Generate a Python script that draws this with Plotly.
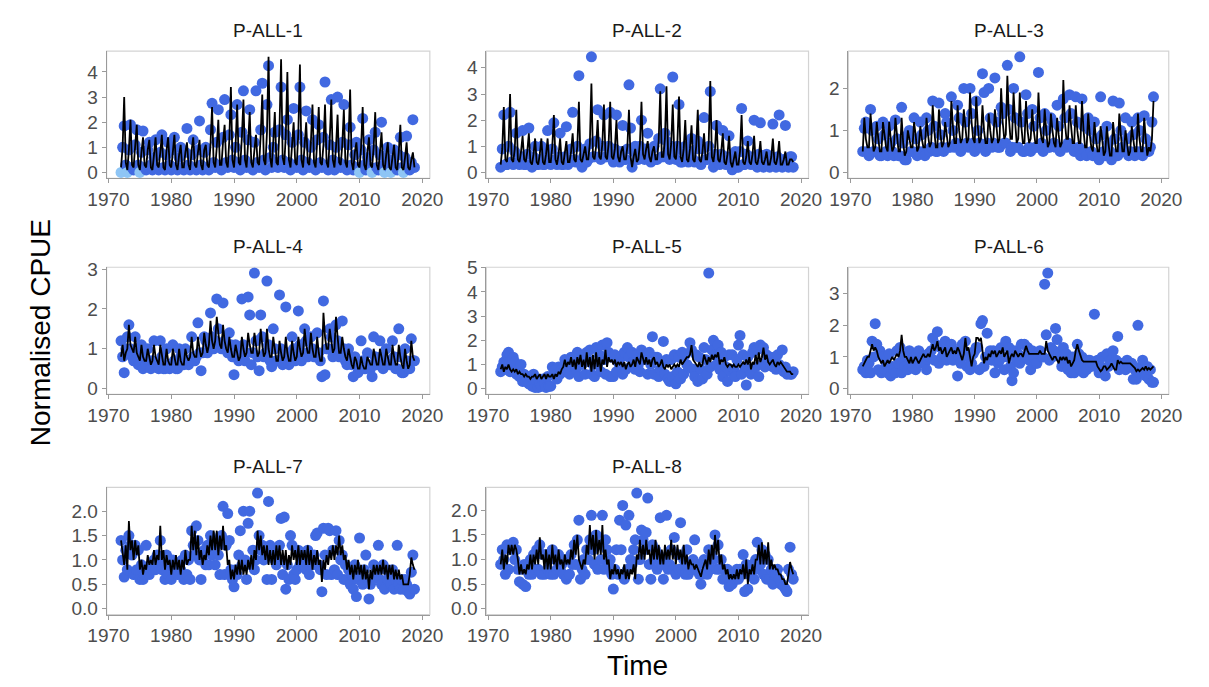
import plotly.graph_objects as go

START_YEAR = 1972  # first quarter of the series; points are quarterly

panel_names = ["P-ALL-1", "P-ALL-2", "P-ALL-3", "P-ALL-4",
               "P-ALL-5", "P-ALL-6", "P-ALL-7", "P-ALL-8"]
x_ticks = [1970, 1980, 1990, 2000, 2010, 2020]

# ---------------- P-ALL-1 ----------------
obs_1 = [
    0.0, 1.0, 1.85, 0.3,  0.0, 0.9, 1.9, 0.2,  0.1, 1.1, 1.7, 0.3,  0.0, 0.8, 1.65, 0.2,
    0.1, 0.9, 1.2, 0.3,   0.1, 0.6, 1.3, 0.2,  0.1, 0.8, 1.5, 0.2,  0.1, 0.7, 1.2, 0.3,
    0.1, 0.9, 1.4, 0.2,   0.1, 0.6, 1.0, 0.2,  0.1, 0.8, 1.75, 0.3, 0.1, 0.7, 1.3, 0.2,
    0.1, 0.9, 2.05, 0.3,  0.1, 0.8, 1.0, 0.2,  0.1, 1.7, 2.75, 0.4, 0.2, 1.2, 2.5, 0.3,
    0.1, 1.4, 2.9, 0.4,   0.2, 1.5, 2.3, 0.5,  0.2, 1.0, 2.7, 0.4,  0.1, 1.6, 3.25, 0.5,
    0.2, 1.3, 2.5, 0.3,   0.1, 1.2, 3.25, 0.4, 0.2, 1.7, 3.55, 0.5, 0.1, 2.7, 4.25, 0.6,
    0.2, 1.0, 1.6, 0.4,   0.2, 1.7, 3.4, 0.5,  0.2, 1.5, 2.1, 0.4,  0.1, 1.2, 2.55, 0.3,
    0.2, 1.5, 3.4, 0.5,   0.1, 1.2, 2.45, 0.4, 0.2, 1.0, 2.1, 0.3,  0.1, 1.3, 1.9, 0.4,
    0.2, 1.4, 3.6, 0.3,   0.1, 1.1, 2.9, 0.5,  0.1, 1.0, 3.0, 0.4,  0.2, 1.2, 2.7, 0.3,
    0.1, 1.1, 1.8, 0.3,   0.1, 0.7, 1.2, 0.2,  0.0, 0.9, 2.15, 0.3, 0.1, 0.6, 1.3, 0.2,
    0.0, 0.9, 1.6, 0.2,   0.1, 0.7, 2.0, 0.3,  0.0, 0.6, 1.0, 0.2,  0.0, 0.5, 0.9, 0.2,
    0.1, 0.7, 1.4, 0.2,   0.0, 0.6, 1.45, 0.3, 0.1, 0.4, 2.1, 0.2,
]
fit_1 = [
    0.2, 1.0, 3.0, 0.4,  0.1, 0.9, 2.1, 0.3,  0.2, 1.2, 1.9, 0.3,  0.1, 0.8, 1.4, 0.3,
    0.2, 0.9, 1.3, 0.2,  0.1, 0.7, 1.4, 0.3,  0.2, 0.8, 1.5, 0.2,  0.1, 0.9, 1.4, 0.3,
    0.2, 0.8, 1.5, 0.3,  0.1, 0.7, 1.1, 0.2,  0.2, 0.8, 1.2, 0.3,  0.1, 0.9, 1.4, 0.3,
    0.2, 0.8, 1.3, 0.3,  0.1, 0.9, 1.1, 0.3,  0.2, 1.1, 2.6, 0.4,  0.2, 1.0, 2.1, 0.3,
    0.3, 1.2, 1.9, 0.4,  0.2, 1.3, 3.4, 0.5,  0.2, 1.1, 2.7, 0.4,  0.3, 1.4, 2.9, 0.5,
    0.2, 1.2, 2.4, 0.4,  0.2, 0.9, 1.5, 0.4,  0.3, 1.5, 3.1, 0.5,  0.3, 1.6, 4.6, 0.6,
    0.2, 1.2, 2.4, 0.4,  0.3, 1.8, 4.5, 0.6,  0.3, 1.5, 4.0, 0.5,  0.2, 1.1, 2.0, 0.4,
    0.3, 1.6, 4.3, 0.5,  0.2, 1.1, 2.0, 0.4,  0.3, 1.2, 2.7, 0.4,  0.2, 1.2, 2.6, 0.4,
    0.3, 1.1, 2.7, 0.4,  0.2, 1.3, 2.9, 0.5,  0.2, 1.0, 2.3, 0.4,  0.3, 1.1, 2.5, 0.4,
    0.2, 1.3, 3.3, 0.4,  0.1, 0.8, 1.2, 0.3,  0.2, 1.0, 2.6, 0.3,  0.1, 0.8, 1.4, 0.3,
    0.2, 1.0, 2.4, 0.3,  0.1, 0.8, 1.6, 0.3,  0.1, 0.7, 1.2, 0.2,  0.1, 0.6, 1.1, 0.2,
    0.1, 0.8, 1.9, 0.2,  0.1, 0.6, 1.2, 0.2,  0.1, 0.5, 0.8, 0.2,
]

# ---------------- P-ALL-2 ----------------
obs_2 = [
    0.2, 0.9, 2.2, 0.3,  0.3, 1.0, 2.3, 0.4,  0.3, 0.8, 1.5, 0.4,  0.3, 0.6, 1.6, 0.3,
    0.3, 0.7, 1.7, 0.3,  0.2, 0.6, 1.0, 0.3,  0.3, 0.5, 1.0, 0.3,  0.3, 0.7, 1.6, 0.4,
    0.3, 0.9, 1.9, 0.5,  0.3, 0.6, 1.5, 0.3,  0.3, 0.6, 1.75, 0.3, 0.4, 0.9, 2.3, 0.5,
    0.4, 1.0, 3.7, 0.4,  0.2, 0.6, 0.9, 0.4,  0.5, 1.1, 4.42, 0.6, 0.6, 1.2, 2.4, 0.6,
    0.5, 1.0, 2.2, 0.6,  0.6, 1.0, 2.3, 0.7,  0.4, 0.9, 2.2, 0.5,  0.4, 0.8, 1.8, 0.5,
    0.5, 0.9, 3.35, 1.7, 0.2, 0.8, 1.0, 0.5,  0.5, 1.0, 2.0, 0.8,  0.5, 0.9, 1.5, 0.7,
    0.4, 0.9, 1.0, 0.5,  0.5, 1.3, 3.2, 0.6,  0.6, 1.5, 1.2, 0.9,  0.5, 1.0, 3.65, 0.8,
    0.5, 1.0, 2.6, 0.4,  0.4, 0.8, 1.0, 0.5,  0.4, 0.8, 1.3, 0.5,  0.4, 0.9, 1.2, 0.4,
    0.3, 0.9, 2.1, 0.5,  0.5, 1.0, 3.1, 0.6,  0.2, 0.7, 1.8, 0.4,  0.3, 0.7, 1.6, 0.4,
    0.3, 0.6, 1.4, 0.3,  0.1, 0.5, 0.8, 0.2,  0.2, 0.8, 2.45, 0.3, 0.3, 0.7, 1.2, 0.4,
    0.3, 0.6, 2.0, 0.3,  0.2, 0.7, 1.9, 0.3,  0.2, 0.5, 0.7, 0.3,  0.2, 0.6, 1.85, 0.3,
    0.2, 0.6, 2.2, 0.3,  0.2, 0.5, 1.8, 0.3,  0.2, 0.6, 0.6, 0.2,
]
fit_2 = [
    0.3, 0.9, 2.5, 0.5,  0.4, 1.0, 3.0, 0.5,  0.4, 0.9, 2.4, 0.5,  0.4, 0.8, 1.4, 0.5,
    0.4, 0.8, 1.5, 0.4,  0.3, 0.7, 1.3, 0.4,  0.3, 0.7, 1.3, 0.4,  0.3, 0.7, 1.3, 0.4,
    0.4, 1.0, 2.2, 0.5,  0.3, 0.7, 1.3, 0.4,  0.3, 0.7, 1.2, 0.4,  0.4, 0.8, 1.5, 0.5,
    0.4, 1.0, 2.7, 0.5,  0.4, 0.7, 1.0, 0.5,  0.5, 1.1, 3.4, 0.6,  0.5, 1.0, 2.0, 0.6,
    0.5, 1.1, 2.6, 0.6,  0.5, 1.1, 2.7, 0.6,  0.5, 0.9, 2.0, 0.6,  0.4, 0.8, 1.0, 0.5,
    0.5, 1.0, 2.4, 0.6,  0.2, 0.6, 0.9, 0.4,  0.5, 1.1, 2.7, 0.7,  0.5, 0.9, 1.2, 0.6,
    0.4, 0.8, 1.0, 0.5,  0.5, 1.2, 3.1, 0.6,  0.6, 1.3, 3.3, 0.7,  0.5, 1.1, 2.6, 0.6,
    0.5, 1.2, 2.9, 0.6,  0.4, 0.9, 2.0, 0.5,  0.4, 0.9, 1.8, 0.5,  0.4, 1.0, 2.4, 0.5,
    0.4, 0.8, 1.5, 0.5,  0.5, 1.2, 3.5, 0.6,  0.4, 0.9, 2.0, 0.5,  0.4, 0.8, 1.5, 0.4,
    0.3, 0.7, 1.4, 0.4,  0.2, 0.5, 0.8, 0.3,  0.3, 0.8, 2.2, 0.4,  0.3, 0.6, 1.2, 0.4,
    0.3, 0.7, 1.4, 0.4,  0.3, 0.6, 1.2, 0.4,  0.3, 0.5, 0.8, 0.3,  0.3, 0.6, 1.3, 0.4,
    0.3, 0.6, 1.2, 0.3,  0.3, 0.5, 0.8, 0.3,  0.3, 0.5, 0.5, 0.4,
]

# ---------------- P-ALL-3 ----------------
obs_3 = [
    0.5, 1.05, 1.2, 0.5,  0.4, 1.5, 1.0, 0.5,  0.5, 1.1, 0.8, 0.4,  0.4, 1.2, 0.9, 0.5,
    0.4, 1.1, 0.7, 0.5,   0.4, 1.25, 0.8, 0.4, 0.4, 1.55, 0.7, 0.3, 0.3, 0.9, 1.0, 0.5,
    0.5, 1.3, 0.8, 0.4,   0.5, 1.2, 0.9, 0.5,  0.4, 1.3, 1.0, 0.5,  0.6, 1.7, 1.1, 0.5,
    0.5, 1.65, 0.9, 0.6,  0.5, 1.4, 1.2, 0.6,  0.6, 1.8, 1.0, 0.6,  0.7, 1.6, 1.3, 0.5,
    0.6, 2.0, 1.2, 0.7,   0.6, 2.0, 1.4, 0.7,  0.5, 1.7, 1.0, 0.7,  0.6, 2.35, 1.9, 0.5,
    0.7, 2.0, 1.3, 0.6,   0.7, 2.25, 1.2, 0.6, 0.6, 1.55, 1.4, 0.7, 0.7, 2.55, 1.5, 0.5,
    0.6, 2.0, 1.3, 0.6,   0.6, 2.75, 1.2, 0.5, 0.5, 1.85, 1.4, 0.6, 0.5, 1.5, 1.1, 0.6,
    0.6, 2.38, 1.3, 0.7,  0.5, 1.4, 1.0, 0.6,  0.6, 1.3, 1.2, 0.7,  0.6, 1.6, 1.1, 0.5,
    0.6, 1.75, 1.3, 0.6,  0.7, 1.85, 1.4, 0.6, 0.5, 1.8, 1.2, 0.6,  0.4, 1.75, 1.1, 0.5,
    0.4, 1.3, 1.0, 0.5,   0.4, 1.2, 0.8, 0.4,  0.3, 1.8, 0.9, 0.5,  0.4, 1.1, 0.7, 0.5,
    0.3, 1.7, 0.8, 0.4,   0.4, 1.65, 1.0, 0.6, 0.5, 1.3, 0.8, 0.4,  0.5, 1.2, 0.9, 0.4,
    0.5, 1.3, 1.0, 0.5,   0.4, 1.35, 0.8, 0.5, 0.5, 0.6, 1.2, 1.8,
]
fit_3 = [
    0.5, 1.3, 0.8, 0.6,  0.6, 1.4, 0.9, 0.5,  0.6, 1.2, 0.8, 0.5,  0.5, 1.2, 0.9, 0.6,
    0.5, 1.2, 0.8, 0.5,  0.6, 1.3, 0.9, 0.5,  0.5, 1.3, 0.7, 0.4,  0.5, 1.0, 0.8, 0.6,
    0.6, 1.2, 0.9, 0.5,  0.6, 1.1, 0.8, 0.6,  0.6, 1.3, 0.9, 0.6,  0.7, 1.6, 1.0, 0.6,
    0.6, 1.5, 0.9, 0.6,  0.7, 1.2, 0.9, 0.6,  0.7, 1.7, 1.1, 0.7,  0.7, 1.6, 1.0, 0.7,
    0.8, 1.5, 1.1, 0.7,  0.8, 1.9, 1.2, 0.8,  0.7, 1.8, 1.1, 0.7,  0.8, 1.6, 1.0, 0.7,
    0.7, 1.4, 1.0, 0.7,  0.8, 1.5, 1.1, 0.7,  0.8, 2.0, 1.2, 0.8,  0.9, 2.3, 1.3, 0.8,
    0.8, 1.9, 1.2, 0.7,  0.8, 1.9, 1.1, 0.7,  0.7, 1.7, 1.0, 0.7,  0.8, 1.5, 1.0, 0.7,
    0.7, 1.9, 1.1, 0.8,  0.7, 1.5, 1.0, 0.6,  0.7, 1.4, 1.0, 0.7,  0.6, 1.3, 0.9, 0.6,
    0.7, 2.2, 1.2, 0.8,  0.8, 1.6, 1.1, 0.7,  0.7, 1.6, 1.0, 0.7,  0.7, 1.7, 1.0, 0.6,
    0.6, 1.4, 0.9, 0.6,  0.5, 1.2, 0.8, 0.5,  0.5, 1.1, 0.8, 0.4,  0.5, 1.1, 0.7, 0.4,
    0.4, 1.2, 0.8, 0.5,  0.5, 1.4, 0.9, 0.5,  0.5, 1.0, 0.7, 0.4,  0.5, 1.1, 0.8, 0.5,
    0.5, 1.4, 0.8, 0.5,  0.5, 1.3, 0.8, 0.4,  0.6, 0.5, 0.8, 1.7,
]

# ---------------- P-ALL-4 ----------------
obs_4 = [
    1.2, 0.8, 0.4, 1.0,   1.3, 1.6, 1.0, 0.8,  0.7, 1.3, 0.9, 0.6,  0.6, 1.1, 0.5, 0.8,
    0.6, 1.0, 0.7, 0.5,   0.7, 1.2, 0.6, 0.6,  0.5, 1.2, 0.8, 0.5,  0.5, 1.0, 0.6, 0.5,
    0.6, 1.1, 0.7, 0.5,   0.5, 1.0, 0.8, 0.6,  0.6, 1.0, 0.7, 0.6,  0.7, 1.3, 0.8, 0.7,
    0.8, 1.65, 0.9, 0.45, 0.9, 1.3, 1.2, 0.9,  1.1, 1.9, 1.3, 1.0,  1.2, 2.25, 1.5, 1.1,
    1.0, 2.15, 1.2, 1.0,  0.9, 1.4, 1.1, 0.8,  0.35, 1.1, 0.9, 0.7, 0.8, 2.25, 1.1, 0.7,
    0.9, 2.3, 1.85, 0.6,  0.9, 2.9, 1.2, 0.8,  0.45, 1.85, 1.3, 0.8, 0.9, 2.7, 1.1, 0.7,
    0.55, 1.5, 1.0, 0.7,  0.7, 2.35, 1.0, 0.6, 0.8, 2.05, 0.9, 0.6, 0.7, 1.3, 1.0, 0.7,
    0.8, 1.95, 1.1, 0.7,  0.9, 1.5, 1.2, 0.8,  0.9, 1.3, 1.0, 0.8,  0.8, 1.4, 0.9, 0.7,
    0.3, 2.2, 0.35, 1.0,  1.0, 1.5, 1.3, 0.8,  1.0, 1.6, 1.2, 0.8,  0.9, 1.7, 1.0, 0.7,
    0.6, 1.0, 0.8, 0.6,   0.3, 0.8, 0.6, 0.4,  0.5, 1.2, 0.7, 0.5,  0.5, 0.9, 0.6, 0.5,
    0.3, 1.3, 0.8, 0.6,   0.6, 1.2, 0.8, 0.5,  0.6, 1.0, 0.7, 0.6,  0.6, 1.2, 0.8, 0.5,
    0.5, 1.5, 0.8, 0.4,   0.4, 1.0, 0.7, 0.5,  0.5, 1.25, 0.7, 0.7,
]
fit_4 = [
    0.8, 1.1, 0.7, 0.9,  1.0, 1.6, 1.1, 1.0,  0.9, 1.3, 0.9, 0.8,  0.7, 1.1, 0.8, 0.7,
    0.7, 1.0, 0.8, 0.6,  0.7, 1.1, 0.8, 0.7,  0.6, 1.1, 0.8, 0.6,  0.6, 1.0, 0.7, 0.6,
    0.6, 1.0, 0.8, 0.6,  0.6, 1.0, 0.7, 0.6,  0.6, 1.0, 0.8, 0.7,  0.8, 1.3, 0.9, 0.8,
    0.8, 1.3, 1.0, 0.8,  0.9, 1.4, 1.1, 0.9,  1.1, 1.7, 1.2, 1.0,  1.2, 1.8, 1.4, 1.1,
    1.0, 1.6, 1.2, 1.0,  0.9, 1.3, 1.0, 0.8,  0.8, 1.1, 0.9, 0.7,  0.8, 1.3, 1.0, 0.8,
    0.9, 1.4, 1.1, 0.9,  0.9, 1.4, 1.1, 0.8,  0.9, 1.5, 1.1, 0.8,  0.9, 1.5, 1.0, 0.8,
    0.8, 1.3, 1.0, 0.7,  0.7, 1.2, 0.9, 0.7,  0.8, 1.3, 0.9, 0.7,  0.7, 1.2, 0.9, 0.7,
    0.8, 1.3, 1.0, 0.8,  0.9, 1.5, 1.1, 0.9,  0.9, 1.4, 1.0, 0.8,  0.8, 1.3, 0.9, 0.7,
    0.7, 1.9, 1.3, 1.0,  1.0, 1.5, 1.2, 0.9,  1.0, 1.8, 1.3, 0.9,  0.9, 1.3, 1.0, 0.8,
    0.7, 1.0, 0.8, 0.6,  0.5, 0.8, 0.7, 0.5,  0.5, 0.8, 0.6, 0.5,  0.5, 0.8, 0.7, 0.6,
    0.6, 1.0, 0.8, 0.6,  0.6, 1.0, 0.8, 0.6,  0.6, 1.0, 0.8, 0.6,  0.6, 1.1, 0.8, 0.6,
    0.6, 1.1, 0.8, 0.6,  0.5, 1.0, 0.7, 0.5,  0.6, 1.2, 0.8, 0.7,
]

# ---------------- P-ALL-5 ----------------
obs_5 = [
    0.7, 0.9, 1.1, 0.8,  1.4, 1.5, 0.7, 1.0,  1.3, 1.1, 0.6, 0.8,  0.5, 1.0, 0.3, 0.6,
    0.3, 0.4, 0.2, 0.5,  0.1, 0.6, 0.05, 0.3, 0.05, 0.2, 0.1, 0.4, 0.2, 0.05, 0.5, 0.1,
    0.1, 0.9, 0.6, 0.8,  0.4, 0.9, 0.6, 0.8,  0.7, 1.2, 0.8, 1.0,  0.6, 1.3, 0.9, 1.1,
    0.8, 1.5, 0.5, 1.2,  1.0, 1.4, 0.6, 1.5,  1.2, 1.6, 0.6, 1.0,  0.5, 1.7, 1.0, 1.4,
    0.7, 1.8, 1.2, 0.6,  1.9, 1.5, 0.5, 1.3,  0.5, 1.4, 0.7, 1.1,  1.0, 1.3, 0.6, 1.5,
    0.8, 1.7, 1.3, 0.9,  1.5, 1.1, 0.8, 1.4,  1.0, 0.7, 1.6, 1.3,  1.2, 1.4, 0.6, 1.5,
    1.0, 2.15, 0.6, 1.3, 1.3, 0.5, 0.8, 1.1,  1.95, 0.6, 1.2, 0.4, 0.3, 1.2, 0.5, 1.4,
    0.2, 0.7, 1.3, 0.4,  1.5, 0.6, 1.4, 1.0,  0.9, 1.9, 1.6, 0.8,  0.5, 1.4, 0.3, 1.3,
    0.8, 0.4, 1.7, 1.2,  0.6, 4.78, 0.9, 1.6, 2.0, 1.4, 1.0, 1.8,  0.8, 1.5, 0.5, 1.3,
    0.9, 0.3, 1.4, 0.7,  1.4, 0.8, 0.5, 1.2,  1.8, 2.2, 0.6, 1.4,  0.9, 0.15, 1.3, 0.8,
    0.6, 1.5, 1.7, 0.9,  1.6, 0.5, 1.8, 1.0,  1.7, 0.9, 1.4, 1.2,  1.1, 1.3, 0.9, 1.1,
    0.8, 1.4, 1.0, 0.9,  1.6, 0.7, 0.9, 0.6,  0.7, 0.6, 0.6, 0.7,
]
fit_5 = [
    0.8, 1.0, 0.7, 0.9,  0.8, 1.0, 0.8, 0.7,  0.8, 0.7, 0.8, 0.6,  0.7, 0.6, 0.6, 0.5,
    0.6, 0.5, 0.5, 0.4,  0.5, 0.5, 0.6, 0.4,  0.5, 0.6, 0.4, 0.5,  0.6, 0.4, 0.6, 0.5,
    0.5, 0.6, 0.4, 0.6,  0.5, 0.7, 0.6, 0.8,  0.9, 1.2, 0.9, 1.1,  1.0, 1.3, 0.9, 1.2,
    0.8, 1.3, 1.0, 1.4,  0.9, 1.2, 0.8, 1.5,  0.9, 1.3, 0.7, 1.4,  0.8, 1.5, 0.9, 1.3,
    0.7, 1.2, 1.0, 1.6,  0.9, 1.3, 1.1, 1.2,  1.0, 1.2, 0.9, 1.1,  1.0, 1.1, 0.9, 1.1,
    0.8, 1.0, 1.1, 0.9,  1.0, 1.2, 0.9, 1.3,  1.1, 1.0, 1.5, 1.2,  1.0, 1.3, 1.0, 1.2,
    0.9, 1.2, 1.3, 1.0,  1.1, 0.9, 1.0, 1.2,  0.9, 0.8, 1.0, 0.9,  1.0, 0.8, 0.9, 1.0,
    0.9, 1.0, 0.9, 1.2,  1.0, 1.1, 1.2, 1.3,  1.3, 1.4, 1.8, 1.2,  1.1, 1.0, 0.9, 1.1,
    0.9, 1.0, 1.4, 1.2,  1.0, 1.3, 1.1, 1.4,  1.2, 1.4, 1.3, 1.5,  1.0, 1.2, 1.1, 1.3,
    1.0, 0.9, 1.0, 1.0,  0.9, 1.0, 0.9, 0.9,  1.0, 0.9, 1.0, 1.1,  1.0, 1.2, 1.0, 1.3,
    0.8, 1.1, 1.0, 1.4,  1.0, 1.5, 1.1, 1.3,  1.7, 1.2, 1.4, 1.1,  1.0, 1.1, 1.2, 1.0,
    0.9, 1.1, 1.0, 1.1,  1.0, 0.9, 0.8, 0.7,  0.7, 0.7, 0.6, 0.6,
]

# ---------------- P-ALL-6 ----------------
obs_6 = [
    0.6, 0.7, 0.5, 0.9,   0.8, 0.5, 1.5, 1.0,  2.05, 1.4, 0.6, 1.2, 0.5, 1.0, 0.6, 0.8,
    0.5, 1.1, 0.4, 0.7,   0.6, 0.5, 1.2, 0.8,  1.3, 0.5, 1.0, 0.7,  1.1, 0.6, 1.2, 0.9,
    0.7, 1.0, 0.6, 1.1,   1.2, 0.8, 0.9, 1.0,  0.8, 0.6, 1.1, 1.0,  1.2, 1.6, 0.9, 1.4,
    1.8, 0.8, 1.3, 1.0,   1.1, 1.5, 0.9, 1.2,  1.0, 1.4, 0.9, 1.2,  1.2, 0.4, 1.0, 0.8,
    1.4, 1.2, 1.5, 0.7,   1.0, 0.6, 0.8, 1.1,  1.2, 1.3, 1.3, 0.6,  2.05, 2.15, 0.7, 1.0,
    1.75, 1.0, 1.2, 0.9,  1.2, 0.5, 1.1, 0.8,  0.9, 1.3, 1.0, 0.6,  1.5, 1.0, 1.3, 0.7,
    0.25, 0.5, 1.2, 0.9,  1.1, 0.8, 1.4, 1.0,  1.4, 1.0, 1.3, 0.9,  0.6, 1.2, 1.0, 0.8,
    0.8, 1.1, 1.2, 1.0,   1.0, 3.3, 1.7, 3.65, 0.9, 1.3, 1.0, 1.2,  1.9, 1.55, 1.1, 1.0,
    0.7, 1.3, 0.8, 1.1,   0.6, 0.9, 0.5, 1.0,  0.5, 0.8, 1.4, 1.1,  0.6, 1.0, 0.5, 0.8,
    0.6, 0.9, 0.9, 0.7,   0.8, 2.35, 0.7, 0.9, 0.5, 0.7, 1.0, 0.6,  0.4, 1.1, 0.7, 0.9,
    0.9, 1.2, 0.8, 0.9,   1.65, 0.6, 0.8, 0.7, 0.8, 0.6, 0.9, 0.7,  0.7, 0.8, 0.3, 0.6,
    0.3, 2.0, 0.5, 0.7,   0.9, 0.6, 0.4, 0.7,  0.3, 0.6, 0.2, 0.2,
]
fit_6 = [
    0.7, 0.8, 0.9, 1.0,   1.0, 1.2, 1.4, 1.2,   1.3, 1.2, 1.0, 0.9,   0.8, 0.9, 0.7, 0.8,
    0.9, 0.8, 0.9, 1.0,   0.9, 1.0, 1.1, 1.0,   1.2, 1.7, 1.2, 1.0,   1.0, 0.9, 0.8, 1.0,
    0.8, 0.9, 1.0, 0.9,   0.8, 0.9, 1.0, 1.1,   1.0, 1.0, 1.1, 1.0,   1.2, 1.4, 1.2, 1.3,
    1.5, 1.2, 1.3, 1.1,   1.2, 1.3, 1.0, 1.1,   1.2, 1.3, 1.1, 1.2,   1.1, 1.3, 1.2, 1.0,
    0.9, 1.1, 1.6, 1.2,   1.3, 1.0, 0.7, 1.0,   1.1, 1.6, 1.6, 1.5,   1.6, 1.2, 0.8, 1.0,
    0.9, 1.1, 1.0, 1.2,   1.1, 1.2, 1.0, 1.1,   1.2, 1.1, 1.3, 1.0,   1.1, 1.2, 0.8, 1.0,
    1.1, 1.0, 1.2, 1.1,   1.0, 1.1, 1.1, 1.0,   1.2, 1.35, 1.2, 1.1,  1.1, 1.1, 1.1, 1.1,
    1.1, 1.1, 1.2, 1.1,   1.1, 1.1, 1.5, 1.2,   1.1, 1.0, 0.9, 1.0,   1.0, 0.9, 0.8, 1.0,
    0.9, 1.0, 0.9, 1.0,   0.8, 0.9, 0.7, 0.8,   0.9, 1.2, 1.4, 1.2,   1.0, 0.9, 0.85, 0.85,
    0.85, 0.85, 0.85, 0.85, 0.85, 0.85, 0.85, 0.7, 0.6, 0.55, 0.6, 0.7, 0.7, 0.6, 0.65, 0.7,
    0.8, 0.7, 0.6, 0.6,   0.9, 0.8, 0.85, 0.8,  0.8, 0.8, 0.8, 0.8,   0.8, 0.75, 0.7, 0.65,
    0.55, 0.6, 0.55, 0.6, 0.65, 0.6, 0.7, 0.6,  0.65, 0.6, 0.65, 0.7,
]

# ---------------- P-ALL-7 ----------------
obs_7 = [
    1.4, 1.0, 0.65, 1.2,  0.8, 1.5, 1.3, 1.1,  0.7, 1.3, 0.8, 1.2,  0.6, 0.9, 0.6, 0.7,
    1.3, 0.8, 0.7, 0.9,   0.8, 1.0, 0.8, 1.1,  0.9, 1.4, 0.8, 1.0,  0.6, 1.1, 0.7, 0.9,
    0.6, 1.0, 0.8, 0.9,   0.7, 0.9, 0.8, 1.0,  0.6, 1.1, 0.7, 1.0,  0.6, 1.6, 1.3, 1.1,
    1.7, 1.4, 1.0, 0.6,   1.0, 1.2, 0.9, 1.3,  0.9, 1.5, 1.1, 1.4,  0.9, 1.3, 1.1, 0.7,
    1.5, 2.1, 0.7, 1.3,   1.95, 1.4, 0.8, 0.6, 0.45, 0.8, 0.7, 1.1, 1.6, 0.9, 2.0, 1.0,
    0.6, 1.75, 2.0, 0.9,  1.2, 0.8, 1.0, 2.37, 1.5, 1.2, 1.3, 1.0,  1.1, 0.6, 2.2, 1.3,
    0.6, 1.2, 1.0, 0.9,   1.0, 1.3, 1.85, 0.7, 1.88, 0.4, 0.9, 0.6, 1.5, 1.3, 0.7, 0.6,
    0.8, 1.2, 0.9, 1.0,   0.9, 1.1, 0.8, 1.2,  0.7, 1.0, 0.9, 1.1,  1.5, 1.55, 0.9, 0.8,
    0.35, 1.65, 1.1, 0.7, 1.65, 1.6, 0.7, 1.2, 0.8, 1.6, 0.7, 1.4,  1.0, 1.1, 0.6, 0.9,
    0.6, 0.8, 0.5, 0.7,   0.4, 0.9, 0.25, 0.6, 1.45, 0.7, 0.5, 0.8, 1.1, 0.6, 0.2, 0.5,
    0.6, 0.9, 0.7, 0.8,   1.3, 0.6, 0.5, 0.9,  0.4, 0.8, 0.6, 0.7,  0.5, 0.8, 0.4, 0.6,
    1.3, 0.5, 0.4, 0.6,   0.4, 0.6, 0.5, 0.35, 0.3, 0.75, 1.1, 0.4,
]
fit_7 = [
    1.4, 1.1, 0.9, 1.3,   0.8, 1.8, 1.2, 1.4,  1.0, 1.4, 1.1, 1.3,  0.8, 1.0, 0.7, 0.9,
    0.8, 1.1, 0.9, 1.0,   0.9, 1.2, 0.9, 1.1,  1.0, 1.7, 1.0, 1.2,  0.8, 1.1, 0.9, 1.0,
    0.7, 1.0, 0.8, 1.1,   0.8, 1.0, 0.7, 1.0,  0.8, 1.2, 0.9, 1.0,  1.0, 1.7, 1.2, 1.6,
    1.1, 1.5, 1.0, 1.2,   0.9, 1.1, 1.0, 1.3,  1.1, 1.5, 1.2, 1.6,  1.2, 1.6, 1.1, 1.5,
    1.2, 1.7, 1.2, 1.3,   0.9, 1.0, 0.6, 0.8,  0.6, 0.9, 0.7, 1.0,  0.7, 1.0, 0.7, 0.9,
    0.7, 1.0, 0.8, 1.1,   0.8, 1.2, 1.0, 1.6,  1.2, 1.5, 1.1, 1.3,  1.0, 1.3, 0.9, 1.2,
    0.9, 1.2, 0.9, 1.3,   1.0, 1.3, 0.9, 1.2,  0.9, 1.2, 0.8, 1.1,  0.9, 1.3, 1.0, 1.2,
    0.9, 1.3, 0.9, 1.2,   1.0, 1.2, 0.9, 1.3,  0.9, 1.2, 0.8, 1.1,  0.9, 1.2, 0.9, 1.0,
    0.55, 1.0, 0.8, 1.1,  0.9, 1.2, 1.0, 1.3,  1.0, 1.3, 1.1, 1.5,  1.1, 1.3, 1.0, 1.1,
    0.8, 1.0, 0.7, 0.9,   0.6, 0.9, 0.7, 1.0,  0.7, 0.9, 0.6, 0.9,  0.6, 0.8, 0.4, 0.8,
    0.6, 0.9, 0.7, 0.9,   0.7, 0.9, 0.7, 1.0,  0.7, 0.9, 0.6, 0.9,  0.7, 0.9, 0.6, 0.8,
    0.6, 0.8, 0.6, 0.7,   0.5, 0.5, 0.5, 0.5,  0.7, 1.05, 0.9, 0.8,
]

# ---------------- P-ALL-8 ----------------
obs_8 = [
    0.9, 1.2, 1.0, 0.7,   1.3, 0.8, 1.2, 1.3,  1.35, 1.0, 1.2, 0.8, 0.55, 0.8, 0.5, 0.9,
    0.45, 0.8, 0.7, 1.0,  0.7, 1.1, 0.8, 1.2,  0.8, 1.3, 0.7, 1.1,  0.7, 1.1, 0.8, 1.0,
    0.7, 1.2, 0.7, 1.0,   0.8, 1.1, 0.8, 0.9,  0.7, 1.0, 0.6, 1.0,  0.7, 1.1, 0.9, 1.3,
    0.9, 1.4, 1.8, 0.6,   0.8, 1.0, 0.7, 1.2,  1.0, 1.4, 1.9, 1.2,  0.9, 1.5, 0.8, 1.3,
    1.0, 1.9, 0.8, 1.4,   1.2, 0.9, 1.0, 0.7,  0.4, 0.8, 1.2, 0.7,  1.8, 1.2, 2.1, 0.6,
    1.7, 0.8, 1.9, 1.0,   0.9, 1.2, 1.4, 2.35, 0.6, 1.0, 1.6, 1.4,  1.2, 1.55, 2.25, 0.9,
    0.6, 1.3, 1.0, 1.2,   0.8, 1.1, 1.85, 0.9, 0.6, 1.0, 1.9, 0.8,  0.9, 1.2, 0.8, 1.45,
    0.7, 1.1, 0.8, 1.75,  0.8, 1.0, 0.7, 1.2,  0.7, 0.9, 0.8, 1.0,  1.4, 0.8, 0.9, 0.7,
    0.5, 0.7, 1.0, 0.9,   0.7, 1.2, 0.8, 1.1,  1.0, 1.5, 0.8, 1.3,  0.8, 1.0, 0.6, 0.8,
    0.6, 0.8, 0.45, 0.7,  0.5, 0.7, 0.6, 0.8,  0.6, 0.8, 0.7, 1.1,  0.35, 0.9, 0.4, 0.7,
    0.7, 0.9, 0.6, 1.0,   1.35, 0.8, 0.9, 1.2, 0.7, 1.1, 0.6, 1.0,  0.6, 0.8, 0.5, 0.7,
    0.7, 0.8, 0.6, 0.5,   0.5, 0.45, 0.4, 0.35, 0.8, 1.25, 0.7, 0.6,
]
fit_8 = [
    0.9, 1.2, 0.8, 1.1,   0.9, 1.3, 1.1, 1.3,  1.1, 1.3, 1.2, 1.0,  0.7, 0.9, 0.7, 0.8,
    0.7, 0.9, 0.8, 1.1,   0.8, 1.1, 0.9, 1.2,  0.9, 1.45, 1.0, 1.1, 0.8, 1.2, 0.8, 1.1,
    0.8, 1.3, 0.9, 1.1,   0.8, 1.2, 0.9, 1.0,  0.8, 1.1, 0.9, 1.0,  0.9, 1.2, 1.0, 1.4,
    1.1, 1.5, 1.0, 0.9,   0.8, 1.0, 0.9, 1.3,  1.1, 1.7, 1.2, 1.5,  1.0, 1.6, 1.1, 1.4,
    1.1, 1.7, 1.0, 1.2,   0.9, 1.0, 0.6, 0.8,  0.7, 0.9, 0.7, 0.8,  0.6, 0.8, 0.7, 0.9,
    0.6, 0.8, 0.6, 0.8,   0.7, 0.9, 0.6, 1.1,  1.0, 1.4, 1.0, 1.3,  1.0, 1.4, 1.1, 1.2,
    0.9, 1.3, 1.0, 1.4,   1.0, 1.3, 0.9, 1.2,  0.9, 1.3, 1.0, 1.2,  1.0, 1.4, 1.0, 1.3,
    0.9, 1.3, 1.0, 1.2,   0.9, 1.3, 0.9, 1.1,  0.8, 1.0, 0.9, 0.9,  0.8, 0.9, 0.8, 0.7,
    0.65, 0.8, 0.9, 1.0,  0.8, 1.2, 0.9, 1.3,  1.0, 1.5, 1.1, 1.4,  0.9, 1.1, 0.8, 0.9,
    0.7, 0.8, 0.6, 0.7,   0.6, 0.7, 0.6, 0.8,  0.6, 0.8, 0.7, 0.9,  0.6, 1.0, 0.5, 0.8,
    0.7, 0.9, 0.7, 1.0,   1.0, 1.3, 0.9, 1.35, 0.9, 1.2, 0.9, 1.35, 0.8, 1.0, 0.8, 0.9,
    0.8, 0.8, 0.7, 0.7,   0.6, 0.6, 0.5, 0.5,  0.7, 0.95, 0.8, 0.7,
]

observed = [obs_1, obs_2, obs_3, obs_4, obs_5, obs_6, obs_7, obs_8]
fitted = [fit_1, fit_2, fit_3, fit_4, fit_5, fit_6, fit_7, fit_8]

# ---------------- layout geometry (pixels) ----------------
W, H = 1209, 687
col_px = [(90, 422), (480, 811), (852, 1181)]
row_px = [(42, 172), (263, 393), (488, 618)]
X_RANGE = [1969.7, 2021.2]

FONT = "Liberation Sans, Arial, Helvetica, sans-serif"
POINT_COLOR = "#4169E1"
ZERO_COLOR = "#8EC5F5"
TICK_GREY = "#4D4D4D"
AXIS_GREY = "#9A9A9A"
BORDER_GREY = "#D3D3D3"

fig = go.Figure()
annotations = []
shapes = []

for k, name in enumerate(panel_names):
    r, c = divmod(k, 3)
    n = k + 1
    xs = "" if n == 1 else str(n)
    obs = observed[k]
    fit = fitted[k]
    t_obs = [START_YEAR + i / 4 for i in range(len(obs))]
    t_fit = [START_YEAR + i / 4 for i in range(len(fit))]
    colors = [ZERO_COLOR if v == 0 else POINT_COLOR for v in obs]

    fig.add_trace(go.Scatter(
        x=t_obs, y=obs, mode="markers",
        marker=dict(size=11, color=colors, line=dict(width=0)),
        xaxis="x" + xs, yaxis="y" + xs, showlegend=False, hoverinfo="x+y"))
    fig.add_trace(go.Scatter(
        x=t_fit, y=fit, mode="lines",
        line=dict(color="black", width=1.8),
        xaxis="x" + xs, yaxis="y" + xs, showlegend=False, hoverinfo="x+y"))

    ymax = max(max(obs), max(fit))
    yrange = [-0.05 * ymax, 1.05 * ymax]
    x0, x1 = col_px[c]
    y0, y1 = row_px[r]

    if n in (7, 8):
        ydtick, yfmt = 0.5, ".1f"
    else:
        ydtick, yfmt = 1, "d"

    axis_common = dict(
        showgrid=False, zeroline=False, showline=True, linecolor=AXIS_GREY,
        linewidth=1, ticks="outside", ticklen=4, tickwidth=1, tickcolor=AXIS_GREY,
        tickfont=dict(family=FONT, size=19, color=TICK_GREY),
    )
    fig.update_layout(**{
        "xaxis" + xs: dict(domain=[x0 / W, x1 / W], anchor="y" + xs,
                           range=X_RANGE, tickmode="array", tickvals=x_ticks,
                           ticktext=[str(v) for v in x_ticks], **axis_common),
        "yaxis" + xs: dict(domain=[1 - y1 / H, 1 - y0 / H], anchor="x" + xs,
                           range=yrange, tick0=0, dtick=ydtick, tickformat=yfmt,
                           **axis_common),
    })

    shapes.append(dict(type="rect", xref="x" + xs + " domain", yref="y" + xs + " domain",
                       x0=0, x1=1, y0=0, y1=1, line=dict(color=BORDER_GREY, width=1.2),
                       layer="below"))
    annotations.append(dict(text=name, x=(x0 + x1) / 2 / W, y=1 - (y0 - 21) / H,
                            xref="paper", yref="paper", showarrow=False,
                            xanchor="center", yanchor="middle",
                            font=dict(family=FONT, size=19, color="#1A1A1A")))

annotations.append(dict(text="Normalised CPUE", x=22 / W, y=1 - 330 / H, xref="paper",
                        yref="paper", showarrow=False, textangle=-90,
                        xanchor="center", yanchor="middle",
                        font=dict(family=FONT, size=28, color="black")))
annotations.append(dict(text="Time", x=(90 + 1181) / 2 / W, y=1 - 670 / H, xref="paper",
                        yref="paper", showarrow=False, xanchor="center", yanchor="middle",
                        font=dict(family=FONT, size=28, color="black")))

fig.update_layout(
    width=W, height=H, margin=dict(l=0, r=0, t=0, b=0),
    paper_bgcolor="white", plot_bgcolor="white",
    annotations=annotations, shapes=shapes,
    font=dict(family=FONT),
)

fig.write_html("out.html")
